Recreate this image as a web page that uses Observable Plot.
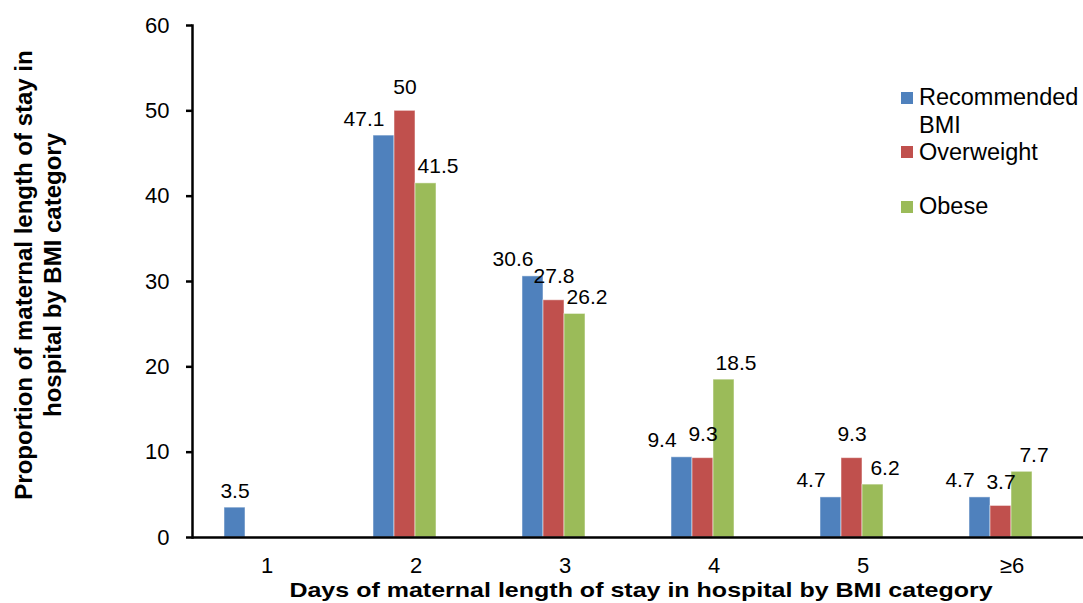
<!DOCTYPE html>
<html>
<head>
<meta charset="utf-8">
<script src="https://cdn.jsdelivr.net/npm/d3@7"></script>
<script src="https://cdn.jsdelivr.net/npm/@observablehq/plot@0.6"></script>
<style>
  html, body { margin: 0; padding: 0; background: #fff; }
  #wrap { position: relative; width: 1083px; height: 603px; overflow: hidden;
          font-family: "Liberation Sans", Arial, sans-serif; color: #000; }
  #wrap svg { position: absolute; left: 0; top: 0; }
  .ytitle { position: absolute; left: -222px; top: 246px; width: 520px; height: 58px;
            line-height: 29px; font-size: 24px; font-weight: bold; text-align: center;
            transform: rotate(-90deg); transform-origin: 50% 50%; white-space: nowrap; }
  .xtitle { position: absolute; left: 241px; top: 578px; width: 800px; height: 24px;
            line-height: 24px; font-size: 20.5px; font-weight: bold; text-align: center;
            transform: scaleX(1.22); transform-origin: 50% 50%; white-space: nowrap; }
  .lg-sw { position: absolute; width: 12px; height: 12px; }
  .lg-tx { position: absolute; font-size: 23.5px; line-height: 28px; white-space: nowrap; }
</style>
</head>
<body>
<div id="wrap"></div>
<script>
// Length of stay categories (days)
const days = ["1", "2", "3", "4", "5", "≥6"];
// BMI groups
const series = ["Recommended BMI", "Overweight", "Obese"];
const colors = ["#4F81BD", "#C0504D", "#9BBB59"];
// Percentages per group, one entry per day category (null = no bar)
const recommended = [3.5, 47.1, 30.6, 9.4, 4.7, 4.7];
const overweight  = [null, 50, 27.8, 9.3, 9.3, 3.7];
const obese       = [null, 41.5, 26.2, 18.5, 6.2, 7.7];
const yTicks = [0, 10, 20, 30, 40, 50, 60];

const valuesBySeries = [recommended, overweight, obese];
const data = [];
days.forEach((day, i) => {
  series.forEach((s, k) => {
    const v = valuesBySeries[k][i];
    if (v != null) data.push({day, series: s, value: v});
  });
});

// A bar standing alone in its group keeps its label centred
const groupSize = d3.rollup(data, v => v.length, d => d.day);
const alone = d => groupSize.get(d.day) === 1;

// Label offsets per group so neighbouring labels do not collide
const labelShift = {
  "Recommended BMI": {dx: -20, dy: -10},
  "Overweight": {dx: 0, dy: -17},
  "Obese": {dx: 12, dy: -10}
};

const labelMarks = series.map(s =>
  Plot.text(data.filter(d => d.series === s && !alone(d)), {
    fx: "day", x: "series", y: "value",
    text: d => String(d.value),
    lineAnchor: "bottom",
    dx: labelShift[s].dx, dy: labelShift[s].dy,
    fontSize: 21
  })
);
labelMarks.push(
  Plot.text(data.filter(alone), {
    fx: "day", x: "series", y: "value",
    text: d => String(d.value),
    lineAnchor: "bottom", dy: -10, fontSize: 21
  })
);

const chart = Plot.plot({
  width: 1083,
  height: 603,
  marginLeft: 188,
  marginRight: 0,
  marginTop: 25,
  marginBottom: 66,
  style: {
    fontFamily: "'Liberation Sans', Arial, sans-serif",
    fontSize: "22px",
    color: "#000",
    background: "transparent",
    overflow: "visible"
  },
  fx: {domain: days, range: [189, 1088], padding: 0, label: null},
  x: {domain: series, paddingInner: 0, paddingOuter: 2.02, align: 0.37, axis: null},
  y: {domain: [0, 60], label: null},
  color: {domain: series, range: colors},
  marks: [
    Plot.barY(data, {
      fx: "day", x: "series", y: "value", fill: "series",
      stroke: "white", strokeOpacity: 0.5, strokeWidth: 1
    }),
    ...labelMarks,
    Plot.ruleY([0], {stroke: "#000", strokeWidth: 2.5}),
    Plot.frame({anchor: "left", facetAnchor: "left", stroke: "#000", strokeWidth: 2.5}),
    Plot.axisY({ticks: yTicks, tickSize: 6, tickPadding: 17, strokeWidth: 2.5, label: null, fontSize: 22}),
    Plot.axisFx({anchor: "bottom", tickSize: 0, tickPadding: 20, label: null, fontSize: 22})
  ]
});

const wrap = document.getElementById("wrap");
wrap.appendChild(chart);

// Axis titles
const yt = document.createElement("div");
yt.className = "ytitle";
yt.innerHTML = "Proportion of maternal length of stay in<br>hospital by BMI category";
wrap.appendChild(yt);

const xt = document.createElement("div");
xt.className = "xtitle";
xt.textContent = "Days of maternal length of stay in hospital by BMI category";
wrap.appendChild(xt);

// Legend inside the plotting area, top right
const legendRows = [
  {label: "Recommended<br>BMI", swatchTop: 92, textTop: 83},
  {label: "Overweight", swatchTop: 146, textTop: 138},
  {label: "Obese", swatchTop: 201, textTop: 192}
];
legendRows.forEach((row, i) => {
  const sw = document.createElement("div");
  sw.className = "lg-sw";
  sw.style.left = "901px";
  sw.style.top = row.swatchTop + "px";
  sw.style.background = colors[i];
  wrap.appendChild(sw);
  const tx = document.createElement("div");
  tx.className = "lg-tx";
  tx.style.left = "919px";
  tx.style.top = row.textTop + "px";
  tx.innerHTML = row.label;
  wrap.appendChild(tx);
});
</script>
</body>
</html>
